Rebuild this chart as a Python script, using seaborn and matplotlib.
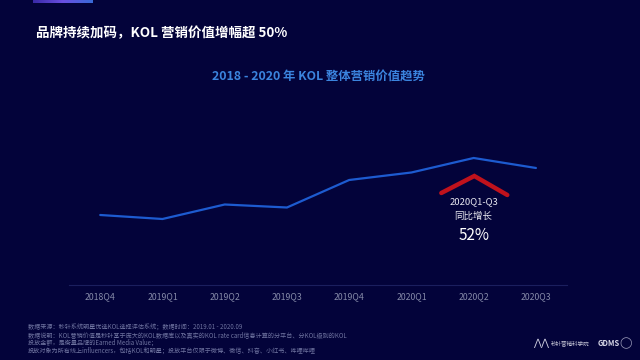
import numpy as np
import pandas as pd
import seaborn as sns
import matplotlib.pyplot as plt

quarters = ['2018Q4', '2019Q1', '2019Q2', '2019Q3', '2019Q4', '2020Q1', '2020Q2', '2020Q3']
kol_value = [70, 66, 80.5, 77.5, 105, 112.5, 127, 117]

title = '品牌持续加码，KOL 营销价值增幅超 50%'
subtitle = '2018 - 2020 年 KOL 整体营销价值趋势'
growth_label = ['2020Q1-Q3', '同比增长']
growth_value = '52%'
notes = [
    '数据来源：秒针系统明星优选KOL选择评估系统；数据时间：2019.01 - 2020.09',
    '数据说明：KOL营销价值是秒针基于庞大的KOL数据库以及真实的KOL rate card信息计算的分平台、分KOL级别的KOL',
    '投放金额，是衡量品牌的Earned Media Value；',
    '投放对象为所有线上influencers，包括KOL和明星；投放平台仅限于微博、微信、抖音、小红书、哔哩哔哩',
]

bg = '#03033a'
sns.set_style('dark')
plt.rcParams['font.family'] = ['Noto Sans CJK SC', 'DejaVu Sans']

df = pd.DataFrame({'quarter': quarters, 'value': kol_value})

fig = plt.figure(figsize=(6.4, 3.6), dpi=100, facecolor=bg)
ax = fig.add_axes([0.108, 0.2083, 0.778, 0.514])
ax.set_facecolor(bg)

sns.lineplot(data=df, x='quarter', y='value', ax=ax, color='#1d5bd0', linewidth=1.6, sort=False)

ax.set_xlim(-0.5, 7.5)
ax.set_ylim(0, 185)
ax.set_xlabel(''); ax.set_ylabel('')
ax.set_yticks([])
ax.tick_params(axis='x', length=0, pad=5, labelsize=6.3, labelcolor='#858aa8')
ax.grid(False)
for s in ['top', 'right', 'left']:
    ax.spines[s].set_visible(False)
ax.spines['bottom'].set_color('#1b1f5e')
ax.spines['bottom'].set_linewidth(0.8)

# growth callout under the 2020Q2 peak
ax.plot([5.48, 6.01, 6.54], [92, 109, 90], color='#c0121c', linewidth=3.2, solid_joinstyle='miter')
ax.text(6.0, 83, growth_label[0], ha='center', va='center', fontsize=6.8, color='#e8e8f0')
ax.text(6.0, 69, growth_label[1], ha='center', va='center', fontsize=6.8, color='#e8e8f0')
ax.text(6.0, 50, growth_value, ha='center', va='center', fontsize=11, color='white')

# header
grad = fig.add_axes([33/640, 1 - 3/360, 60/640, 3/360])
grad.imshow(np.linspace(0, 1, 50).reshape(1, -1), cmap=sns.blend_palette(['#3a2aa8', '#6a4fe0', '#3a6ad8'], as_cmap=True), aspect='auto')
grad.axis('off')

fig.text(36/640, 1 - 33/360, title, fontsize=9.7, fontweight='bold', color='white', va='center', ha='left')
fig.text(318/640, 1 - 76/360, subtitle, fontsize=8.9, fontweight='bold', color='#3b84de', va='center', ha='center')

for i, line in enumerate(notes):
    fig.text(28/640, 1 - (327 + 8 * i)/360, line, fontsize=4.4, color='#6f74a0', va='center', ha='left')

# logos (approximated as text)
fig.text(533/640, 1 - 343/360, '⋀⋀', fontsize=7, color='#d0d0e0', va='center', ha='left', family='DejaVu Sans')
fig.text(551/640, 1 - 343/360, '秒针营销科学院', fontsize=4, color='#c8c8d8', va='center', ha='left')
fig.text(598/640, 1 - 343/360, 'GDMS', fontsize=5.5, fontweight='bold', color='#d8d8e8', va='center', ha='left')
fig.text(626/640, 1 - 343/360, '◯', fontsize=8, color='#9a9ab8', va='center', ha='center', family='DejaVu Sans')

fig.savefig('out.png', dpi=100, facecolor=bg)
